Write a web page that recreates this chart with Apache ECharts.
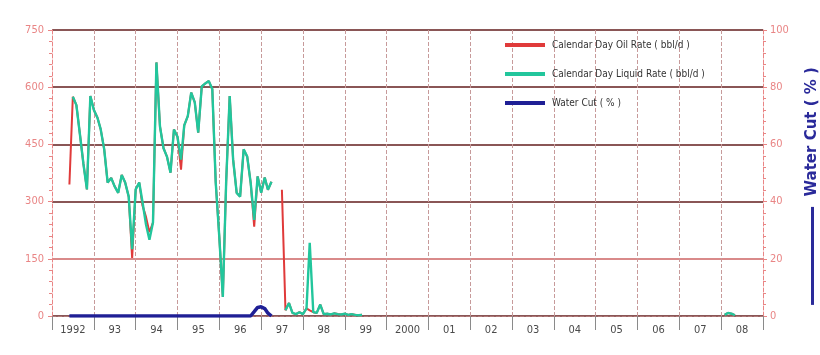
<!DOCTYPE html>
<html>
<head>
<meta charset="utf-8">
<script src="https://cdn.jsdelivr.net/npm/echarts@6/dist/echarts.min.js"></script>
<style>
  html, body { margin: 0; padding: 0; background: #ffffff; }
  #chart { width: 820px; height: 355px; }
</style>
</head>
<body>
<div id="chart"></div>
<script>
// Year bands along the bottom axis
const yearLabels = ['1992', '93', '94', '95', '96', '97', '98', '99', '2000',
  '01', '02', '03', '04', '05', '06', '07', '08'];

// Production months
const months = [
  '1992-06', '1992-07', '1992-08', '1992-09', '1992-10', '1992-11', '1992-12',
  '1993-01', '1993-02', '1993-03', '1993-04', '1993-05', '1993-06', '1993-07', '1993-08', '1993-09', '1993-10', '1993-11', '1993-12',
  '1994-01', '1994-02', '1994-03', '1994-04', '1994-05', '1994-06', '1994-07', '1994-08', '1994-09', '1994-10', '1994-11', '1994-12',
  '1995-01', '1995-02', '1995-03', '1995-04', '1995-05', '1995-06', '1995-07', '1995-08', '1995-09', '1995-10', '1995-11', '1995-12',
  '1996-01', '1996-02', '1996-03', '1996-04', '1996-05', '1996-06', '1996-07', '1996-08', '1996-09', '1996-10', '1996-11', '1996-12',
  '1997-01', '1997-02', '1997-03', '1997-04', '1997-05', '1997-06', '1997-07', '1997-08', '1997-09', '1997-10', '1997-11', '1997-12',
  '1998-01', '1998-02', '1998-03', '1998-04', '1998-05', '1998-06', '1998-07', '1998-08', '1998-09', '1998-10', '1998-11', '1998-12',
  '1999-01', '1999-02', '1999-03', '1999-04', '1999-05', '1999-06', '1999-07',
  '2008-01', '2008-02', '2008-03', '2008-04', '2008-05'
];

// Calendar day oil rate (bbl/d)
const oilRate = [
  345, 575, 553, 476, 400, 332, 577,
  540, 520, 490, 437, 350, 362, 340, 323, 370, 350, 313, 152,
  332, 350, 290, 260, 220, 245, 665, 497, 440, 418, 376, 489,
  470, 384, 500, 524, 586, 560, 481, 602, 610, 616, 595, 350,
  208, 50, 350, 577, 410, 323, 313, 437, 418, 350, 234, 366,
  323, 363, 331, 352, null, null, 331, 15, 34, 8, 5, 10,
  5, 20, 15, 10, 8, 30, 5, 6, 4, 7, 5, 4,
  6, 3, 5, 3, 2, 3, null,
  null, 3, 8, 6, 2
];

// Calendar day liquid rate (bbl/d)
const liquidRate = [
  null, 575, 553, 476, 400, 332, 577,
  540, 520, 490, 437, 350, 362, 340, 323, 370, 350, 313, 175,
  332, 350, 300, 240, 200, 245, 665, 497, 440, 418, 376, 489,
  470, 410, 500, 524, 586, 560, 481, 602, 610, 616, 595, 350,
  208, 50, 350, 577, 410, 323, 313, 437, 418, 350, 252, 366,
  323, 363, 331, 352, null, null, null, 15, 34, 8, 5, 10,
  5, 20, 192, 10, 8, 30, 5, 6, 4, 7, 5, 4,
  6, 3, 5, 3, 2, 3, null,
  null, 3, 8, 6, 2
];

// Water cut (%)
const waterCut = [
  0, 0, 0, 0, 0, 0, 0,
  0, 0, 0, 0, 0, 0, 0, 0, 0, 0, 0, 0,
  0, 0, 0, 0, 0, 0, 0, 0, 0, 0, 0, 0,
  0, 0, 0, 0, 0, 0, 0, 0, 0, 0, 0, 0,
  0, 0, 0, 0, 0, 0, 0, 0, 0, 0, 1.5, 3,
  3.2, 2.6, 1, 0, null, null, null, null, null, null, null, null,
  null, null, null, null, null, null, null, null, null, null, null, null,
  null, null, null, null, null, null, null,
  null, null, null, null, null
];

const rateTicks = { min: 0, max: 750, interval: 150 };
const cutTicks = { min: 0, max: 100, interval: 20 };

const narrow = '"Liberation Sans Narrow", "DejaVu Sans Condensed", "Liberation Sans", sans-serif';
const pink = '#e98585';
const gridDark = '#8a5656';

function pairs(values) {
  return months.map((m, i) => [m + '-01', values[i]]);
}

const chart = echarts.init(document.getElementById('chart'), null, { renderer: 'canvas' });

chart.setOption({
  backgroundColor: '#ffffff',
  animation: false,
  grid: { left: 52, right: 57, top: 30, bottom: 39, containLabel: false, outerBoundsMode: 'none' },
  legend: {
    orient: 'vertical',
    left: 500,
    top: 35,
    itemGap: 19,
    itemWidth: 40,
    itemHeight: 4,
    icon: 'rect',
    textStyle: { fontFamily: narrow, fontSize: 10, color: '#333333', padding: [0, 0, 0, 2] },
    data: ['Calendar Day Oil Rate ( bbl/d )', 'Calendar Day Liquid Rate ( bbl/d )', 'Water Cut ( % )']
  },
  xAxis: [
    {
      type: 'category',
      data: yearLabels,
      boundaryGap: true,
      axisLine: { show: true, lineStyle: { color: '#b07a7a', type: 'dashed', width: 1 } },
      axisTick: { show: true, alignWithLabel: false, interval: 0, length: 14, inside: false,
        lineStyle: { color: '#8a8a8a', width: 1 } },
      axisLabel: { interval: 0, margin: 9, color: '#4a4a4a', fontFamily: narrow, fontSize: 11 },
      splitLine: { show: true, interval: 0, lineStyle: { color: '#c79a9a', type: 'dashed', width: 1 } }
    },
    {
      type: 'time',
      min: '1992-01-01',
      max: '2009-01-01',
      show: false
    }
  ],
  yAxis: [
    {
      type: 'value',
      min: rateTicks.min, max: rateTicks.max, interval: rateTicks.interval,
      axisLine: { show: true, lineStyle: { color: pink, type: 'dashed', width: 1 } },
      axisTick: { show: true, length: 4, lineStyle: { color: pink } },
      minorTick: { show: true, splitNumber: 5, length: 3, lineStyle: { color: pink } },
      axisLabel: { color: pink, fontFamily: narrow, fontSize: 11, margin: 8 },
      splitLine: { show: true, lineStyle: { color: [gridDark, '#d98a8a', gridDark, gridDark, gridDark, gridDark], width: 1.8 } }
    },
    {
      type: 'value',
      position: 'right',
      min: cutTicks.min, max: cutTicks.max, interval: cutTicks.interval,
      axisLine: { show: true, lineStyle: { color: pink, type: 'dashed', width: 1 } },
      axisTick: { show: true, length: 4, lineStyle: { color: pink } },
      minorTick: { show: true, splitNumber: 5, length: 3, lineStyle: { color: pink } },
      axisLabel: { color: pink, fontFamily: narrow, fontSize: 11, margin: 7 },
      splitLine: { show: false },
      name: '{bar|}  Water Cut ( % )',
      nameLocation: 'middle',
      nameRotate: 90,
      nameGap: 42,
      nameTextStyle: {
        color: '#2a2a9a',
        fontFamily: '"DejaVu Sans", sans-serif',
        fontWeight: 'bold',
        fontSize: 15,
        padding: [0, 26, 0, 0],
        rich: {
          bar: { width: 98, height: 3, backgroundColor: '#2a2a9a' }
        }
      }
    }
  ],
  series: [
    {
      name: 'Calendar Day Oil Rate ( bbl/d )',
      type: 'line',
      xAxisIndex: 1, yAxisIndex: 0,
      data: pairs(oilRate),
      showSymbol: false, symbol: 'none',
      connectNulls: false,
      color: '#e03a3a',
      lineStyle: { color: '#e03a3a', width: 2 }
    },
    {
      name: 'Calendar Day Liquid Rate ( bbl/d )',
      type: 'line',
      xAxisIndex: 1, yAxisIndex: 0,
      data: pairs(liquidRate),
      showSymbol: false, symbol: 'none',
      connectNulls: false,
      color: '#22c69c',
      lineStyle: { color: '#22c69c', width: 2.4 }
    },
    {
      name: 'Water Cut ( % )',
      type: 'line',
      xAxisIndex: 1, yAxisIndex: 1,
      data: pairs(waterCut),
      showSymbol: false, symbol: 'none',
      connectNulls: false,
      color: '#1f1f95',
      lineStyle: { color: '#1f1f95', width: 3.5 }
    }
  ]
});
</script>
</body>
</html>
